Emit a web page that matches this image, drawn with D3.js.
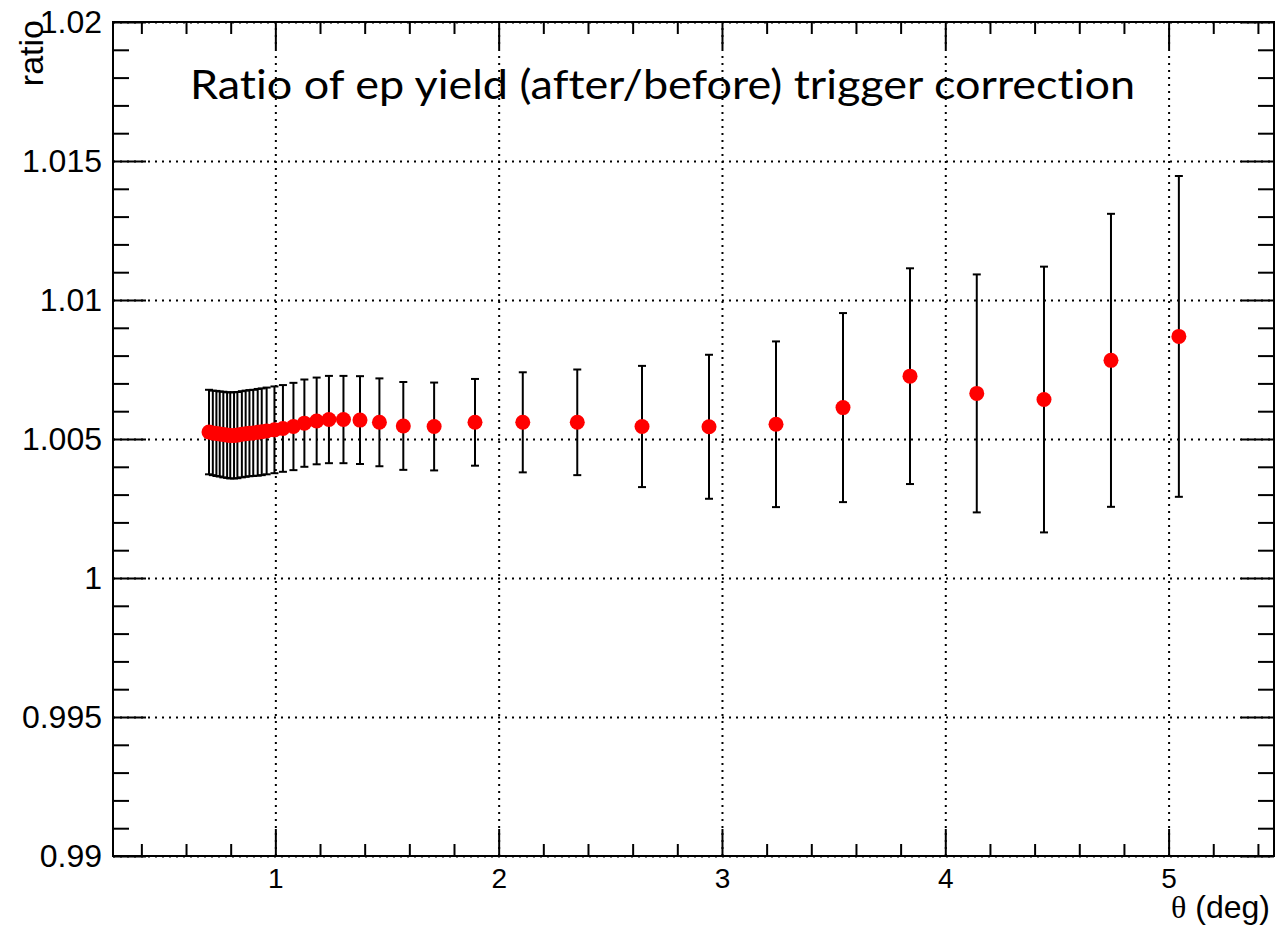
<!DOCTYPE html>
<html>
<head>
<meta charset="utf-8">
<script src="https://cdn.jsdelivr.net/npm/d3@7"></script>
<style>
  html, body { margin: 0; padding: 0; background: #fff; }
  #ratio-chart { width: 1278px; height: 929px; }
  .tick text { font-family: "Liberation Sans", Arial, sans-serif; fill: #000; }
</style>
</head>
<body>
<div id="ratio-chart"></div>
<script>
// ep yield ratio (after/before trigger correction) vs theta, ROOT-style frame
const thetaDeg = [
  0.703, 0.720, 0.736, 0.751, 0.767, 0.784, 0.798, 0.815, 0.830, 0.850,
  0.867, 0.884, 0.901, 0.921, 0.939, 0.961, 0.996, 1.034, 1.081, 1.130,
  1.185, 1.240, 1.305, 1.379, 1.466, 1.573, 1.711, 1.894, 2.108, 2.352,
  2.642, 2.942, 3.242, 3.542, 3.842, 4.141, 4.442, 4.742, 5.046
];
const ratio = [
  1.00525, 1.00522, 1.00520, 1.00518, 1.00516, 1.00514, 1.00513, 1.00513, 1.00514, 1.00517,
  1.00519, 1.00521, 1.00522, 1.00524, 1.00526, 1.00529, 1.00533, 1.00538, 1.00545, 1.00557,
  1.00565, 1.00570, 1.00570, 1.00568, 1.00560, 1.00547, 1.00545, 1.00560, 1.00560, 1.00560,
  1.00545, 1.00544, 1.00553, 1.00613, 1.00726, 1.00664, 1.00642, 1.00783, 1.00869
];
const ratioErr = [
  0.00152, 0.00152, 0.00153, 0.00153, 0.00154, 0.00154, 0.00155, 0.00155, 0.00155, 0.00155,
  0.00155, 0.00155, 0.00155, 0.00156, 0.00156, 0.00156, 0.00156, 0.00156, 0.00157, 0.00157,
  0.00156, 0.00157, 0.00157, 0.00158, 0.00158, 0.00158, 0.00158, 0.00156, 0.00180, 0.00190,
  0.00218, 0.00259, 0.00298, 0.00340, 0.00388, 0.00428, 0.00478, 0.00527, 0.00577
];
const xTicks = [1, 2, 3, 4, 5];
const yTicks = [0.99, 0.995, 1, 1.005, 1.01, 1.015, 1.02];
const yTickLabels = ["0.99", "0.995", "1", "1.005", "1.01", "1.015", "1.02"];

const W = 1278, H = 929;
const margin = { top: 22, right: 4, bottom: 73, left: 113 };
const innerW = W - margin.left - margin.right;
const innerH = H - margin.top - margin.bottom;

const x = d3.scaleLinear().domain([0.273, 5.472]).range([0, innerW]);
const y = d3.scaleLinear().domain([0.99, 1.02]).range([innerH, 0]);

const xMinor = d3.range(0.4, 5.45, 0.2).filter(v => Math.abs(v - Math.round(v)) > 1e-6);
const yMinor = d3.range(0, 31).map(i => 0.99 + i * 0.001).filter((v, i) => i % 5 !== 0);

const svg = d3.select("#ratio-chart").append("svg")
  .attr("width", W).attr("height", H);
const g = svg.append("g").attr("transform", `translate(${margin.left},${margin.top})`);

// title sits under the grid
svg.append("text")
  .attr("x", 190).attr("y", 99)
  .attr("font-family", "Lato, 'Open Sans', sans-serif")
  .attr("font-size", 40)
  .style("font-variant-ligatures", "none")
  .attr("textLength", 945)
  .attr("lengthAdjust", "spacingAndGlyphs")
  .text("Ratio of ep yield (after/before) trigger correction");

// dotted grid at major ticks
const gridStyle = sel => {
  sel.select(".domain").remove();
  sel.selectAll(".tick line")
    .attr("stroke", "#000").attr("stroke-width", 2)
    .attr("stroke-dasharray", "2,5");
};
g.append("g").attr("transform", `translate(0,${innerH})`)
  .call(d3.axisBottom(x).tickValues(xTicks).tickSize(-innerH).tickFormat(""))
  .call(gridStyle);
g.append("g")
  .call(d3.axisLeft(y).tickValues(yTicks).tickSize(-innerW).tickFormat(""))
  .call(gridStyle);

const tickStyle = sel => {
  sel.select(".domain").remove();
  sel.selectAll(".tick line").attr("stroke", "#000").attr("stroke-width", 2);
};

// bottom axis: labels + inward ticks
g.append("g").attr("transform", `translate(0,${innerH})`)
  .call(d3.axisBottom(x).tickValues(xTicks).tickSize(-27).tickPadding(12).tickFormat(d3.format("d")))
  .call(tickStyle)
  .call(a => a.selectAll("text").attr("font-size", 28));
g.append("g").attr("transform", `translate(0,${innerH})`)
  .call(d3.axisBottom(x).tickValues(xMinor).tickSize(-12).tickFormat(""))
  .call(tickStyle);

// top axis ticks
g.append("g")
  .call(d3.axisTop(x).tickValues(xTicks).tickSize(-27).tickFormat(""))
  .call(tickStyle);
g.append("g")
  .call(d3.axisTop(x).tickValues(xMinor).tickSize(-12).tickFormat(""))
  .call(tickStyle);

// left axis: labels + inward ticks
g.append("g")
  .call(d3.axisLeft(y).tickValues(yTicks).tickSize(-33).tickPadding(11)
    .tickFormat((d, i) => yTickLabels[i]))
  .call(tickStyle)
  .call(a => a.selectAll("text").attr("font-size", 32));
g.append("g")
  .call(d3.axisLeft(y).tickValues(yMinor).tickSize(-16).tickFormat(""))
  .call(tickStyle);

// right axis ticks
g.append("g").attr("transform", `translate(${innerW},0)`)
  .call(d3.axisRight(y).tickValues(yTicks).tickSize(-33).tickFormat(""))
  .call(tickStyle);
g.append("g").attr("transform", `translate(${innerW},0)`)
  .call(d3.axisRight(y).tickValues(yMinor).tickSize(-16).tickFormat(""))
  .call(tickStyle);

// frame
g.append("rect")
  .attr("width", innerW).attr("height", innerH)
  .attr("fill", "none").attr("stroke", "#000").attr("stroke-width", 2);

const points = thetaDeg.map((t, i) => ({ t, v: ratio[i], e: ratioErr[i] }));

// error bars
const capW = 4;
const bars = g.append("g").attr("stroke", "#000").attr("stroke-width", 2);
bars.selectAll("line.err")
  .data(points).join("line").attr("class", "err")
  .attr("x1", d => x(d.t)).attr("x2", d => x(d.t))
  .attr("y1", d => y(d.v - d.e)).attr("y2", d => y(d.v + d.e));
bars.selectAll("line.cap-hi")
  .data(points).join("line").attr("class", "cap-hi")
  .attr("x1", d => x(d.t) - capW).attr("x2", d => x(d.t) + capW)
  .attr("y1", d => y(d.v + d.e)).attr("y2", d => y(d.v + d.e));
bars.selectAll("line.cap-lo")
  .data(points).join("line").attr("class", "cap-lo")
  .attr("x1", d => x(d.t) - capW).attr("x2", d => x(d.t) + capW)
  .attr("y1", d => y(d.v - d.e)).attr("y2", d => y(d.v - d.e));

// markers
g.append("g").selectAll("circle")
  .data(points).join("circle")
  .attr("cx", d => x(d.t)).attr("cy", d => y(d.v))
  .attr("r", 7.5).attr("fill", "#ff0000");

// axis titles
svg.append("text")
  .attr("x", 1270).attr("y", 918)
  .attr("text-anchor", "end")
  .attr("font-family", "'Liberation Sans', Arial, sans-serif")
  .attr("font-size", 32)
  .call(t => t.append("tspan").attr("font-family", "'Liberation Serif', serif").text("θ"))
  .call(t => t.append("tspan").text(" (deg)"));

svg.append("text")
  .attr("transform", "translate(43,20) rotate(-90)")
  .attr("text-anchor", "end")
  .attr("font-family", "'Liberation Sans', Arial, sans-serif")
  .attr("font-size", 34)
  .text("ratio");
</script>
</body>
</html>
